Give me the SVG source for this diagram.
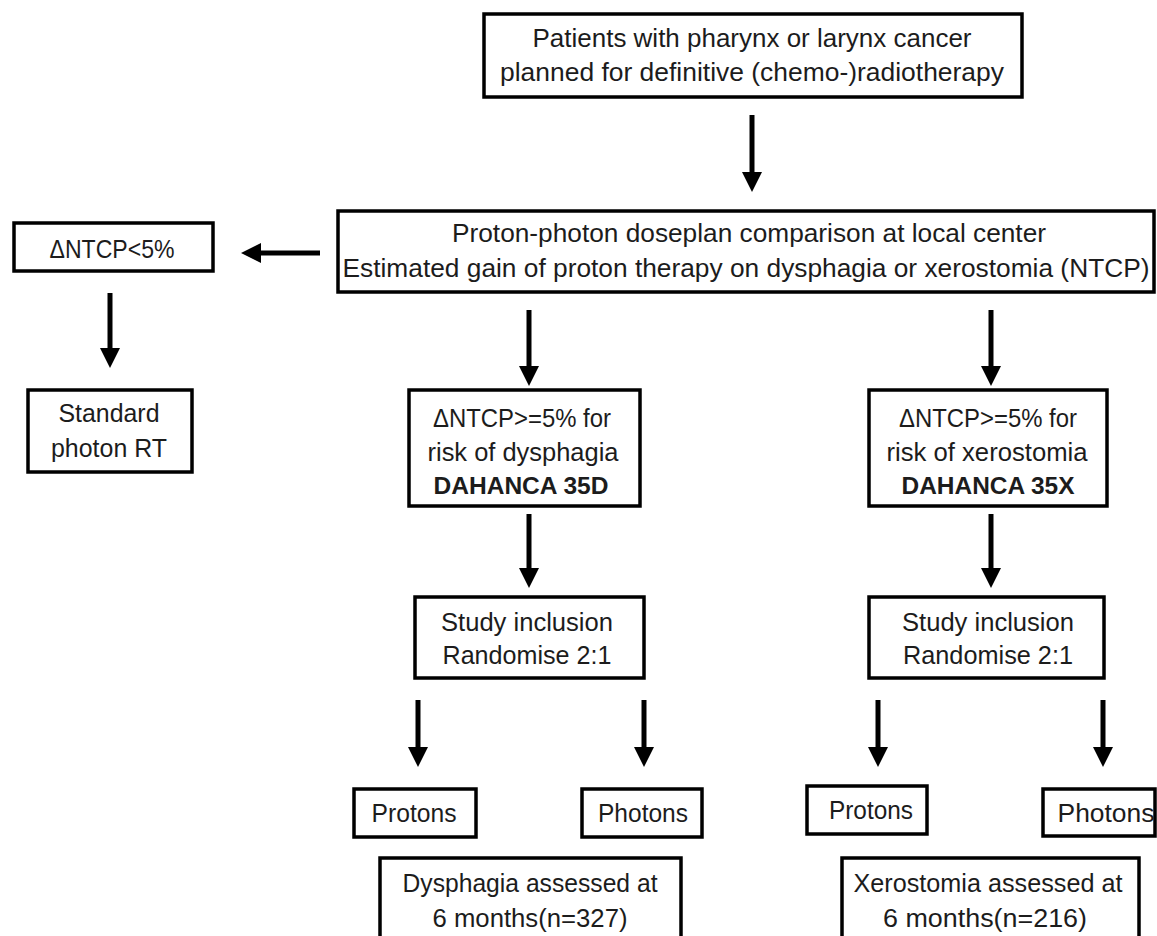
<svg xmlns="http://www.w3.org/2000/svg" width="1157" height="936" viewBox="0 0 1157 936">
<style>
.box{fill:#fff;stroke:#000;stroke-width:3.5}
.t{font-family:"Liberation Sans",Arial,sans-serif;font-size:25.5px;fill:#1c1c1c;text-anchor:middle}
.b{font-weight:bold;font-size:24.5px}
.big{font-size:26px}
.arr{stroke:#000;stroke-width:5;fill:none;marker-end:url(#ah)}
</style>
<defs>
<marker id="ah" viewBox="0 0 20 20" refX="0" refY="10" markerWidth="20" markerHeight="20" markerUnits="userSpaceOnUse" orient="auto">
<path d="M0,0 L20,10 L0,20 z" fill="#000"/>
</marker>
</defs>
<rect width="1157" height="936" fill="#fff"/>
<g id="connectors">
<line class="arr" x1="752" y1="115" x2="752" y2="172"/>
<line class="arr" x1="320" y1="253" x2="261" y2="253"/>
<line class="arr" x1="110" y1="293" x2="110" y2="348"/>
<line class="arr" x1="529" y1="310" x2="529" y2="366"/>
<line class="arr" x1="991" y1="310" x2="991" y2="366"/>
<line class="arr" x1="529" y1="514" x2="529" y2="568"/>
<line class="arr" x1="991" y1="514" x2="991" y2="568"/>
<line class="arr" x1="418" y1="700" x2="418" y2="747"/>
<line class="arr" x1="644" y1="700" x2="644" y2="747"/>
<line class="arr" x1="878" y1="700" x2="878" y2="747"/>
<line class="arr" x1="1103" y1="700" x2="1103" y2="747"/>
</g>
<g id="n-patients">
<rect class="box" x="484" y="14" width="538" height="83"/>
<text class="t big" x="752" y="47" textLength="439" lengthAdjust="spacingAndGlyphs">Patients with pharynx or larynx cancer</text>
<text class="t big" x="752" y="81" textLength="504" lengthAdjust="spacingAndGlyphs">planned for definitive (chemo-)radiotherapy</text>
</g>
<g id="n-compare">
<rect class="box" x="338" y="211" width="816" height="81"/>
<text class="t big" x="749" y="242" textLength="594" lengthAdjust="spacingAndGlyphs">Proton-photon doseplan comparison at local center</text>
<text class="t big" x="746" y="277" textLength="807" lengthAdjust="spacingAndGlyphs">Estimated gain of proton therapy on dysphagia or xerostomia (NTCP)</text>
</g>
<g id="n-low">
<rect class="box" x="14" y="223" width="199" height="48"/>
<text class="t" x="112" y="258" textLength="125" lengthAdjust="spacingAndGlyphs">ΔNTCP&lt;5%</text>
</g>
<g id="n-standard">
<rect class="box" x="28" y="390" width="164" height="82"/>
<text class="t" x="109" y="422" textLength="101" lengthAdjust="spacingAndGlyphs">Standard</text>
<text class="t" x="109" y="457" textLength="116" lengthAdjust="spacingAndGlyphs">photon RT</text>
</g>
<g id="n-35d">
<rect class="box" x="409" y="390" width="231" height="116"/>
<text class="t" x="522" y="427" textLength="178" lengthAdjust="spacingAndGlyphs">ΔNTCP&gt;=5% for</text>
<text class="t" x="523" y="461" textLength="191" lengthAdjust="spacingAndGlyphs">risk of dysphagia</text>
<text class="t b" x="521" y="494" textLength="175" lengthAdjust="spacingAndGlyphs">DAHANCA 35D</text>
</g>
<g id="n-35x">
<rect class="box" x="869" y="390" width="238" height="116"/>
<text class="t" x="988" y="427" textLength="178" lengthAdjust="spacingAndGlyphs">ΔNTCP&gt;=5% for</text>
<text class="t" x="987" y="461" textLength="201" lengthAdjust="spacingAndGlyphs">risk of xerostomia</text>
<text class="t b" x="988" y="494" textLength="173" lengthAdjust="spacingAndGlyphs">DAHANCA 35X</text>
</g>
<g id="n-study-d">
<rect class="box" x="415" y="597" width="229" height="81"/>
<text class="t" x="527" y="631" textLength="172" lengthAdjust="spacingAndGlyphs">Study inclusion</text>
<text class="t" x="527" y="664" textLength="169" lengthAdjust="spacingAndGlyphs">Randomise 2:1</text>
</g>
<g id="n-study-x">
<rect class="box" x="869" y="597" width="235" height="81"/>
<text class="t" x="988" y="631" textLength="172" lengthAdjust="spacingAndGlyphs">Study inclusion</text>
<text class="t" x="988" y="664" textLength="170" lengthAdjust="spacingAndGlyphs">Randomise 2:1</text>
</g>
<g id="n-protons-d">
<rect class="box" x="354" y="789" width="122" height="48"/>
<text class="t" x="414" y="822" textLength="85" lengthAdjust="spacingAndGlyphs">Protons</text>
</g>
<g id="n-photons-d">
<rect class="box" x="582" y="789" width="120" height="48"/>
<text class="t" x="643" y="822" textLength="90" lengthAdjust="spacingAndGlyphs">Photons</text>
</g>
<g id="n-protons-x">
<rect class="box" x="807" y="786" width="120" height="48"/>
<text class="t" x="871" y="819" textLength="84" lengthAdjust="spacingAndGlyphs">Protons</text>
</g>
<g id="n-photons-x">
<rect class="box" x="1043" y="789" width="112" height="47"/>
<text class="t" x="1106" y="822" textLength="97" lengthAdjust="spacingAndGlyphs">Photons</text>
</g>
<g id="n-dysphagia">
<rect class="box" x="380" y="858" width="301" height="100"/>
<text class="t" x="530" y="892" textLength="255" lengthAdjust="spacingAndGlyphs">Dysphagia assessed at</text>
<text class="t" x="530" y="927" textLength="195" lengthAdjust="spacingAndGlyphs">6 months(n=327)</text>
</g>
<g id="n-xerostomia">
<rect class="box" x="842" y="858" width="297" height="100"/>
<text class="t" x="988" y="892" textLength="269" lengthAdjust="spacingAndGlyphs">Xerostomia assessed at</text>
<text class="t" x="985" y="927" textLength="204" lengthAdjust="spacingAndGlyphs">6 months(n=216)</text>
</g>
</svg>
